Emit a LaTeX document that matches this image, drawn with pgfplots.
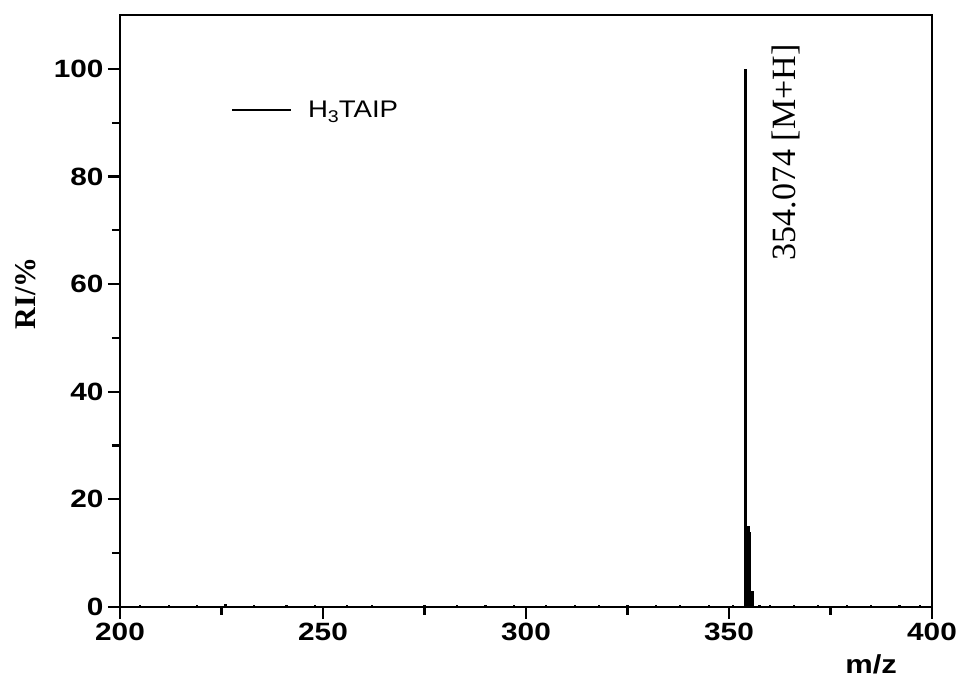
\documentclass[border=0pt]{standalone}
\usepackage{fontspec}
\setmainfont{Liberation Sans}
\newfontfamily\arialf[FakeStretch=1.19]{Liberation Sans}
\newfontfamily\legf[FakeStretch=1.15]{Liberation Sans}
\newfontfamily\timesf{Liberation Serif}
\usepackage{pgfplots}
\pgfplotsset{compat=1.18}
\begin{document}
\begin{tikzpicture}
\begin{axis}[
  scale only axis,
  width=812pt, height=592pt,
  xmin=200, xmax=400, ymin=0, ymax=110,
  xtick={200,250,300,350,400},
  ytick={0,20,40,60,80,100},
  minor x tick num=1, minor y tick num=1,
  tick align=outside,
  xtick pos=bottom, ytick pos=left,
  major tick length=12pt, minor tick length=8pt,
  every tick/.style={line width=2.2pt, black},
  axis line style={line width=2.4pt},
  /pgf/number format/assume math mode=true,
  ticklabel style={font=\fontsize{25}{28}\selectfont\arialf\bfseries},
  xticklabel style={yshift=-1pt},
  yticklabel style={xshift=-1pt},
  xlabel={m/z},
  ylabel={RI/\%},
  xlabel style={font=\fontsize{26}{28}\selectfont\arialf\bfseries, at={(axis description cs:0.925,0)}, anchor=north, yshift=-44pt},
  ylabel style={font=\fontsize{30}{32}\selectfont\timesf\bfseries, at={(axis description cs:-0.1158,0.53)}, anchor=center},
  clip=false,
  legend style={draw=none, fill=none, at={(axis description cs:0.1367,0.84)}, anchor=west, inner sep=0pt, outer sep=0pt},
  legend cell align=left,
]
\addplot[ycomb, black, line width=2.2pt, forget plot] coordinates {
(205,0.3) (212,0.4) (219,0.3) (226,0.5) (233,0.3) (241,0.4) (248,0.3) (256,0.4) (262,0.3)
(275,0.3) (283,0.4) (290,0.3) (297,0.4) (305,0.3) (312,0.4) (318,0.3) (325,0.4) (332,0.3)
(338,0.3) (345,0.4) (351,0.3)
(354.07,100)
(354.45,13.5) (354.55,14) (354.65,14.5) (354.75,15) (354.85,15) (354.95,14.5) (355.05,14) (355.15,13)
(355.3,3) (355.45,3) (355.6,3) (355.75,3) (355.9,3)
(357.5,0.4) (360,0.4) (366,0.3) (372,0.4) (379,0.3) (385,0.4) (392,0.3) (397,0.3)
};
\addlegendimage{legend image code/.code={\draw[black, line width=2pt] (0pt,0pt) -- (59pt,0pt);}}
\addlegendentry{\fontsize{24}{26}\selectfont\legf\hspace{14pt}H\raisebox{-0.45ex}{\fontsize{17}{19}\selectfont 3}TAIP}
\node[rotate=90, font=\fontsize{34}{36}\selectfont\timesf] at (axis cs:364,84.5) {354.074 [M+H]};
\end{axis}
\pgfresetboundingbox
\path ([shift={(-120pt,-72pt)}]current axis.south west) rectangle ([shift={(32pt,15pt)}]current axis.north east);
\end{tikzpicture}
\end{document}
